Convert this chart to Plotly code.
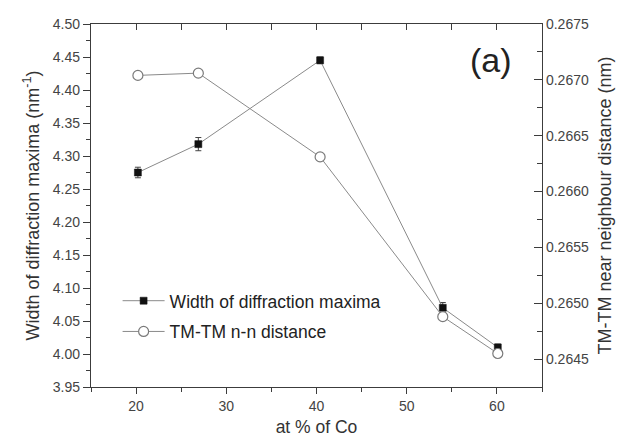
import plotly.graph_objects as go

# Data
co_pct = [20.2, 26.9, 40.4, 54.0, 60.1]
width_max = [4.275, 4.318, 4.445, 4.070, 4.010]
width_err = [0.008, 0.010, 0.005, 0.008, 0.005]
nn_dist = [0.26704, 0.26706, 0.26631, 0.26488, 0.26455]

x_ticks = [20, 30, 40, 50, 60]

FONT = "Liberation Sans, Arial, sans-serif"
AXC = "#3c3c3c"
TXT = "#444444"

fig = go.Figure()

fig.add_trace(go.Scatter(
    x=co_pct, y=width_max, mode="lines+markers",
    name="Width of diffraction maxima",
    line=dict(color="#8a8a8a", width=1),
    marker=dict(symbol="square", size=7, color="#111111",
                line=dict(color="#111111", width=0.5)),
    error_y=dict(type="data", array=width_err, visible=True,
                 color="#444444", thickness=1, width=3),
    legendgroup="a",
    xaxis="x", yaxis="y",
))

fig.add_trace(go.Scatter(
    x=co_pct, y=nn_dist, mode="lines+markers",
    name="TM-TM n-n distance",
    line=dict(color="#8a8a8a", width=1),
    marker=dict(symbol="circle", size=10, color="white",
                line=dict(color="#7a7a7a", width=1.2)),
    legendgroup="b",
    xaxis="x", yaxis="y2",
))

# invisible trace to carry the top (mirror) axis
fig.add_trace(go.Scatter(
    x=co_pct, y=width_max, mode="markers", marker=dict(opacity=0),
    showlegend=False, hoverinfo="skip", xaxis="x2", yaxis="y",
))

fig.update_layout(
    width=619, height=437,
    margin=dict(l=90.6, r=77.3, t=24.3, b=50, autoexpand=False),
    paper_bgcolor="white", plot_bgcolor="white",
    font=dict(family=FONT, color=TXT, size=14),
    showlegend=True,
    legend=dict(x=0.059, y=0.287, xanchor="left", yanchor="top",
                bgcolor="rgba(0,0,0,0)", tracegroupgap=5, itemwidth=42,
                font=dict(size=17.5, color="#222222")),
    xaxis=dict(
        range=[15, 65], tickvals=x_ticks, ticks="outside", ticklen=6,
        tickwidth=1, tickcolor=AXC, showline=True, linecolor=AXC,
        linewidth=1.3, showgrid=False, zeroline=False, automargin=False,
        minor=dict(dtick=5, tick0=15, ticks="outside", ticklen=4,
                   tickcolor=AXC, tickwidth=1, showgrid=False),
        title=dict(text="at % of Co", font=dict(size=17.5, color="#333333"),
                   standoff=11),
        tickfont=dict(size=14),
    ),
    xaxis2=dict(
        range=[15, 65], overlaying="x", side="top", tickvals=x_ticks,
        ticks="inside", ticklen=6, tickwidth=1, tickcolor=AXC,
        showline=True, linecolor=AXC, linewidth=1.3, showgrid=False,
        zeroline=False, showticklabels=False, automargin=False,
        minor=dict(dtick=5, tick0=15, ticks="inside", ticklen=6,
                   tickcolor=AXC, tickwidth=1, showgrid=False),
    ),
    yaxis=dict(
        range=[3.95, 4.50], dtick=0.05, tick0=3.95, tickformat=".2f",
        ticks="outside", ticklen=7, tickwidth=1, tickcolor=AXC,
        showline=True, linecolor=AXC, linewidth=1.3, showgrid=False,
        zeroline=False, automargin=False,
        minor=dict(dtick=0.025, tick0=3.95, ticks="outside", ticklen=4,
                   tickcolor=AXC, tickwidth=1, showgrid=False),
        title=dict(text="Width of diffraction maxima (nm<sup>-1</sup>)",
                   font=dict(size=18, color="#333333"), standoff=8),
        tickfont=dict(size=14),
    ),
    yaxis2=dict(
        range=[0.26425, 0.2675], dtick=0.0005, tick0=0.2645,
        tickformat=".4f", overlaying="y", side="right",
        ticks="inside", ticklen=8, tickwidth=1, tickcolor=AXC,
        showline=True, linecolor=AXC, linewidth=1.3, showgrid=False,
        zeroline=False, automargin=False,
        minor=dict(dtick=0.00025, tick0=0.2645, ticks="inside", ticklen=5,
                   tickcolor=AXC, tickwidth=1, showgrid=False),
        title=dict(text="TM-TM near neighbour distance (nm)",
                   font=dict(size=18, color="#333333"), standoff=10),
        tickfont=dict(size=14),
    ),
    annotations=[dict(
        text="(a)", x=0.888, y=0.9, xref="paper", yref="paper",
        showarrow=False, font=dict(size=34, color="#222222"),
        xanchor="center", yanchor="middle",
    )],
)

fig.write_html("out.html")
